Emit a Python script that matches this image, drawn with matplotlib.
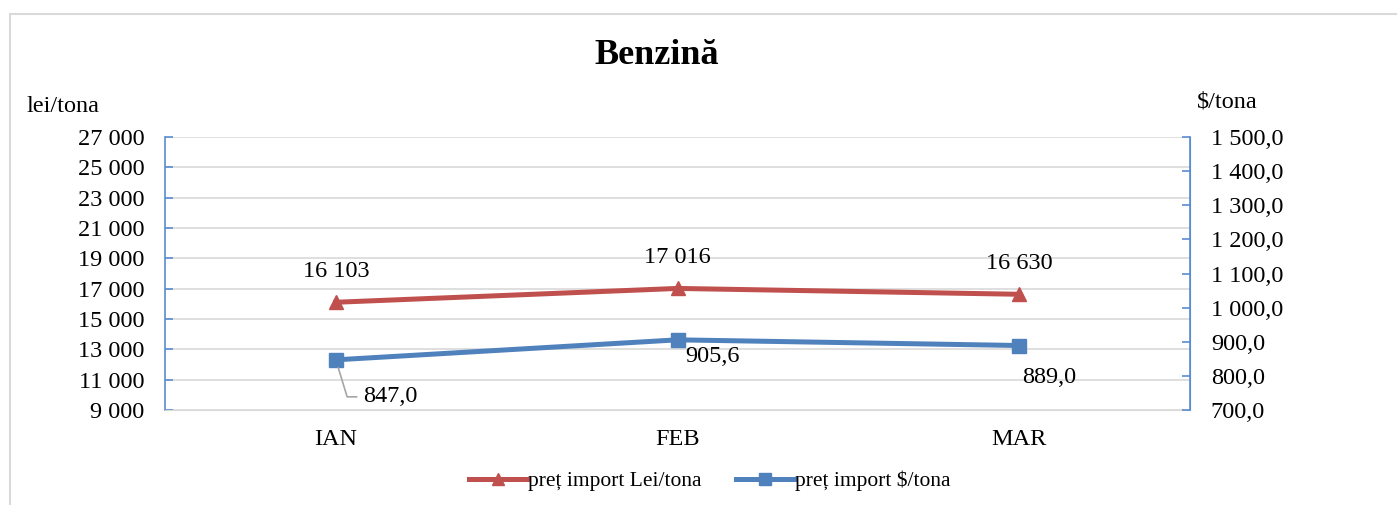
import matplotlib
matplotlib.use("Agg")
import matplotlib.pyplot as plt
from matplotlib.patches import Rectangle

months = ["IAN", "FEB", "MAR"]
lei_tona = [16103, 17016, 16630]
usd_tona = [847.0, 905.6, 889.0]
lei_labels = ["16 103", "17 016", "16 630"]
usd_labels = ["847,0", "905,6", "889,0"]

RED = "#C0504D"
BLUE = "#4F81BD"
AXBLUE = "#5B8BD0"
FS = 17.5

plt.rcParams["font.family"] = ["Liberation Serif", "DejaVu Serif"]

fig = plt.figure(figsize=(13.97, 5.05), dpi=100)
fig.patches.append(Rectangle((10 / 1397, -0.05), 1.1, 1 - 14 / 505 + 0.05,
                             transform=fig.transFigure, fill=False,
                             edgecolor="#D9D9D9", linewidth=1.5))

ax = fig.add_axes([165 / 1397, 1 - 410 / 505, 1025 / 1397, 273 / 505])
ax2 = ax.twinx()

x = list(range(len(months)))
ax.set_xlim(-0.5, 2.5)
ax.set_ylim(9000, 27000)
ax.set_yticks(range(9000, 27001, 2000))
ax.set_yticklabels([f"{v:,}".replace(",", " ") for v in range(9000, 27001, 2000)])
ax2.set_ylim(700, 1500)
ax2.set_yticks(range(700, 1501, 100))
ax2.set_yticklabels([f"{v:,}".replace(",", " ") + ",0" for v in range(700, 1501, 100)])

ax.grid(axis="y", color="#D9D9D9", linewidth=1.2)
ax.set_axisbelow(True)
ax.set_xticks(x)
ax.set_xticklabels(months)

for a in (ax, ax2):
    a.spines["top"].set_visible(False)
    a.spines["left"].set_color(AXBLUE)
    a.spines["right"].set_color(AXBLUE)
    a.spines["bottom"].set_color("#D9D9D9")
    a.tick_params(axis="y", labelsize=FS, labelcolor="black", color=AXBLUE,
                  direction="in", length=6, width=1.2, pad=15)
    a.tick_params(axis="x", length=0, labelsize=FS, pad=14)
ax.spines["left"].set_linewidth(1.2)
ax2.spines["right"].set_linewidth(1.2)
ax2.spines["left"].set_visible(False)
ax2.spines["bottom"].set_visible(False)

l1, = ax.plot(x, lei_tona, color=RED, linewidth=3.6, marker="^",
              markersize=10.5, label="preț import Lei/tona", zorder=3)
l2, = ax2.plot(x, usd_tona, color=BLUE, linewidth=3.6, marker="s",
               markersize=10, label="preț import $/tona", zorder=3)

for xi, v, t in zip(x, lei_tona, lei_labels):
    ax.annotate(t, (xi, v), xytext=(0, 31), textcoords="offset pixels",
                ha="center", va="center", fontsize=FS)

usd_offsets = [(54, -37), (35, -17), (30, -32)]
for xi, v, t, off in zip(x, usd_tona, usd_labels, usd_offsets):
    ax2.annotate(t, (xi, v), xytext=off, textcoords="offset pixels",
                 ha="center", va="center", fontsize=FS)
# leader line for the first $ label
ax2.annotate("", (0, usd_tona[0]), xytext=(21, -37), textcoords="offset pixels",
             arrowprops=dict(arrowstyle="-", color="#A6A6A6", lw=1.2,
                             connectionstyle="angle,angleA=0,angleB=107,rad=0",
                             shrinkA=0, shrinkB=6))

fig.text(657 / 1397, 1 - 56 / 505, "Benzină", ha="center", va="center",
         fontsize=26, fontweight="bold")
fig.text(27 / 1397, 1 - 106 / 505, "lei/tona", ha="left", va="center", fontsize=FS)
fig.text(1197 / 1397, 1 - 102 / 505, "$/tona", ha="left", va="center", fontsize=FS)

leg = fig.legend([l1, l2], [l1.get_label(), l2.get_label()], loc="center",
                 bbox_to_anchor=(710 / 1397, 1 - 481 / 505), ncol=2, frameon=False,
                 fontsize=15.5, handlelength=2.7, handletextpad=0.05,
                 columnspacing=1.6)
for ln in leg.get_lines():
    ln.set_markersize(8)

fig.savefig("out.png", dpi=100)
